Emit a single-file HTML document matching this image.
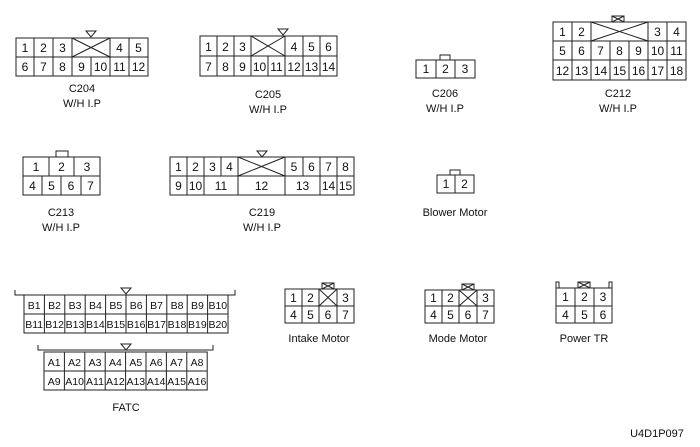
<!DOCTYPE html>
<html><head><meta charset="utf-8"><style>
body{margin:0;background:#fff}
svg{display:block}
text{font-family:"Liberation Sans",sans-serif;fill:#111}
.n{font-size:12px;text-anchor:middle}
.s{font-size:10.5px;text-anchor:middle}
.l{font-size:11px;text-anchor:middle}
</style></head><body>
<svg width="700" height="447" viewBox="0 0 700 447" xmlns="http://www.w3.org/2000/svg">
<g fill="none" stroke="#222" stroke-width="1">
<!-- C204 -->
<rect x="16" y="38" width="132" height="38"/>
<line x1="16" y1="57" x2="148" y2="57"/>
<path d="M34 38V76M53 38V76M72 38V76M110 38V76M129 38V76M91 57V76M72 38L110 57M110 38L72 57"/>
<path d="M86 31H96L91 37Z"/>
<!-- C205 -->
<rect x="200" y="36" width="137" height="40"/>
<line x1="200" y1="56" x2="337" y2="56"/>
<path d="M217 36V76M234 36V76M251 36V76M268 56V76M285 36V76M303 36V76M320 36V76M251 36L285 56M285 36L251 56"/>
<path d="M278 29H288L283 35Z"/>
<!-- C206 -->
<rect x="416" y="60" width="59" height="18"/>
<path d="M436 60V78M455 60V78"/>
<rect x="440" y="55" width="10" height="5"/>
<!-- C212 -->
<rect x="553" y="22" width="133" height="58"/>
<path d="M553 41H686M553 60H686M572 22V80M591 22V80M610 41V80M629 41V80M648 22V80M667 22V80M591 22L648 41M648 22L591 41"/>
<rect x="612" y="16" width="12" height="6"/><path d="M612 16L624 22M624 16L612 22"/>
<!-- C213 -->
<rect x="23" y="157" width="77" height="38"/>
<path d="M23 176H100M49 157V176M74 157V176M42 176V195M61 176V195M81 176V195"/>
<rect x="56" y="151" width="12" height="6"/>
<!-- C219 -->
<rect x="170" y="157" width="184" height="38"/>
<path d="M170 176H354M187 157V195M204 157V195M221 157V176M238 157V195M285 157V195M303 157V176M320 157V195M337 157V195M238 157L285 176M285 157L238 176"/>
<path d="M257 151H267L262 157Z"/>
<!-- Blower -->
<rect x="437" y="175" width="37" height="18"/>
<path d="M455 175V193"/>
<rect x="450" y="170" width="10" height="5"/>
<!-- FATC B -->
<path d="M15 290V295H235V290"/>
<rect x="24" y="295" width="204" height="38"/>
<path d="M24 314H228M44.4 295V333M64.8 295V333M85.2 295V333M105.6 295V333M126 295V333M146.4 295V333M166.8 295V333M187.2 295V333M207.6 295V333"/>
<path d="M121 288H131L126 294Z"/>
<!-- FATC A -->
<path d="M38 345V350H213V345"/>
<rect x="44" y="352" width="163.2" height="38"/>
<path d="M44 371H207.2M64.4 352V390M84.8 352V390M105.2 352V390M125.6 352V390M146 352V390M166.4 352V390M186.8 352V390"/>
<path d="M121 344H131L126 350Z"/>
<!-- Intake -->
<rect x="285" y="289" width="69" height="34"/>
<path d="M285 306H354M302 289V323M319 289V323M337 289V323M319 289L337 306M337 289L319 306"/>
<rect x="322" y="283" width="12" height="6"/><path d="M322 283L334 289M334 283L322 289"/>
<!-- Mode -->
<rect x="425" y="290" width="69" height="33"/>
<path d="M425 306H494M442 290V323M459 290V323M477 290V323M459 290L477 306M477 290L459 306"/>
<rect x="462" y="284" width="12" height="6"/><path d="M462 284L474 290M474 284L462 290"/>
<!-- Power TR -->
<rect x="556" y="288" width="56" height="35"/>
<path d="M556 306H612M575 288V323M594 288V323M556 288V282H559V288M612 288V282H609V288"/>
<rect x="578" y="282" width="12" height="6"/><path d="M578 282L590 288M590 282L578 288"/>
</g>
<!-- numbers -->
<g class="n">
<text x="25" y="52" class="n">1</text><text x="43.5" y="52" class="n">2</text><text x="62.5" y="52" class="n">3</text><text x="119.5" y="52" class="n">4</text><text x="138.5" y="52" class="n">5</text>
<text x="25" y="71" class="n">6</text><text x="43.5" y="71" class="n">7</text><text x="62.5" y="71" class="n">8</text><text x="81.5" y="71" class="n">9</text><text x="100.5" y="71" class="n">10</text><text x="119.5" y="71" class="n">11</text><text x="138.5" y="71" class="n">12</text>
<text x="208.5" y="51" class="n">1</text><text x="225.5" y="51" class="n">2</text><text x="242.5" y="51" class="n">3</text><text x="294" y="51" class="n">4</text><text x="311.5" y="51" class="n">5</text><text x="328.5" y="51" class="n">6</text>
<text x="208.5" y="71" class="n">7</text><text x="225.5" y="71" class="n">8</text><text x="242.5" y="71" class="n">9</text><text x="259.5" y="71" class="n">10</text><text x="276.5" y="71" class="n">11</text><text x="294" y="71" class="n">12</text><text x="311.5" y="71" class="n">13</text><text x="328.5" y="71" class="n">14</text>
<text x="426" y="73" class="n">1</text><text x="445.5" y="73" class="n">2</text><text x="465" y="73" class="n">3</text>
<text x="562.5" y="36" class="n">1</text><text x="581.5" y="36" class="n">2</text><text x="657.5" y="36" class="n">3</text><text x="676.5" y="36" class="n">4</text>
<text x="562.5" y="55" class="n">5</text><text x="581.5" y="55" class="n">6</text><text x="600.5" y="55" class="n">7</text><text x="619.5" y="55" class="n">8</text><text x="638.5" y="55" class="n">9</text><text x="657.5" y="55" class="n">10</text><text x="676.5" y="55" class="n">11</text>
<text x="562.5" y="75" class="n">12</text><text x="581.5" y="75" class="n">13</text><text x="600.5" y="75" class="n">14</text><text x="619.5" y="75" class="n">15</text><text x="638.5" y="75" class="n">16</text><text x="657.5" y="75" class="n">17</text><text x="676.5" y="75" class="n">18</text>
<text x="36" y="171" class="n">1</text><text x="61.5" y="171" class="n">2</text><text x="87" y="171" class="n">3</text>
<text x="32.5" y="190" class="n">4</text><text x="51.5" y="190" class="n">5</text><text x="71" y="190" class="n">6</text><text x="90.5" y="190" class="n">7</text>
<text x="178.5" y="171" class="n">1</text><text x="195.5" y="171" class="n">2</text><text x="212.5" y="171" class="n">3</text><text x="229.5" y="171" class="n">4</text><text x="294" y="171" class="n">5</text><text x="311.5" y="171" class="n">6</text><text x="328.5" y="171" class="n">7</text><text x="345.5" y="171" class="n">8</text>
<text x="178.5" y="190" class="n">9</text><text x="195.5" y="190" class="n">10</text><text x="221" y="190" class="n">11</text><text x="261.5" y="190" class="n">12</text><text x="302.5" y="190" class="n">13</text><text x="328.5" y="190" class="n">14</text><text x="345.5" y="190" class="n">15</text>
<text x="446" y="188" class="n">1</text><text x="464.5" y="188" class="n">2</text>
<text x="293.5" y="302" class="n">1</text><text x="310.5" y="302" class="n">2</text><text x="345.5" y="302" class="n">3</text>
<text x="293.5" y="319" class="n">4</text><text x="310.5" y="319" class="n">5</text><text x="328" y="319" class="n">6</text><text x="345.5" y="319" class="n">7</text>
<text x="433.5" y="302" class="n">1</text><text x="450.5" y="302" class="n">2</text><text x="485.5" y="302" class="n">3</text>
<text x="433.5" y="319" class="n">4</text><text x="450.5" y="319" class="n">5</text><text x="468" y="319" class="n">6</text><text x="485.5" y="319" class="n">7</text>
<text x="565.5" y="301" class="n">1</text><text x="584.5" y="301" class="n">2</text><text x="603" y="301" class="n">3</text>
<text x="565.5" y="319" class="n">4</text><text x="584.5" y="319" class="n">5</text><text x="603" y="319" class="n">6</text>
</g>
<g>
<text x="34.2" y="309" class="s">B1</text><text x="54.6" y="309" class="s">B2</text><text x="75" y="309" class="s">B3</text><text x="95.4" y="309" class="s">B4</text><text x="115.8" y="309" class="s">B5</text><text x="136.2" y="309" class="s">B6</text><text x="156.6" y="309" class="s">B7</text><text x="177" y="309" class="s">B8</text><text x="197.4" y="309" class="s">B9</text><text x="217.8" y="309" class="s">B10</text>
<text x="34.2" y="328" class="s">B11</text><text x="54.6" y="328" class="s">B12</text><text x="75" y="328" class="s">B13</text><text x="95.4" y="328" class="s">B14</text><text x="115.8" y="328" class="s">B15</text><text x="136.2" y="328" class="s">B16</text><text x="156.6" y="328" class="s">B17</text><text x="177" y="328" class="s">B18</text><text x="197.4" y="328" class="s">B19</text><text x="217.8" y="328" class="s">B20</text>
<text x="54.2" y="366" class="s">A1</text><text x="74.6" y="366" class="s">A2</text><text x="95" y="366" class="s">A3</text><text x="115.4" y="366" class="s">A4</text><text x="135.8" y="366" class="s">A5</text><text x="156.2" y="366" class="s">A6</text><text x="176.6" y="366" class="s">A7</text><text x="197" y="366" class="s">A8</text>
<text x="54.2" y="385" class="s">A9</text><text x="74.6" y="385" class="s">A10</text><text x="95" y="385" class="s">A11</text><text x="115.4" y="385" class="s">A12</text><text x="135.8" y="385" class="s">A13</text><text x="156.2" y="385" class="s">A14</text><text x="176.6" y="385" class="s">A15</text><text x="197" y="385" class="s">A16</text>
</g>
<g>
<text x="82" y="92" class="l">C204</text><text x="82" y="107" class="l">W/H I.P</text>
<text x="268" y="98" class="l">C205</text><text x="268" y="113" class="l">W/H I.P</text>
<text x="445" y="97" class="l">C206</text><text x="445" y="112" class="l">W/H I.P</text>
<text x="618" y="97" class="l">C212</text><text x="618" y="112" class="l">W/H I.P</text>
<text x="61" y="216" class="l">C213</text><text x="61" y="231" class="l">W/H I.P</text>
<text x="262" y="216" class="l">C219</text><text x="262" y="231" class="l">W/H I.P</text>
<text x="455" y="216" class="l">Blower Motor</text>
<text x="319" y="342" class="l">Intake Motor</text>
<text x="458" y="342" class="l">Mode Motor</text>
<text x="584" y="342" class="l">Power TR</text>
<text x="126" y="411" class="l">FATC</text>
<text x="657" y="437" class="l">U4D1P097</text>
</g>
</svg>
</body></html>
